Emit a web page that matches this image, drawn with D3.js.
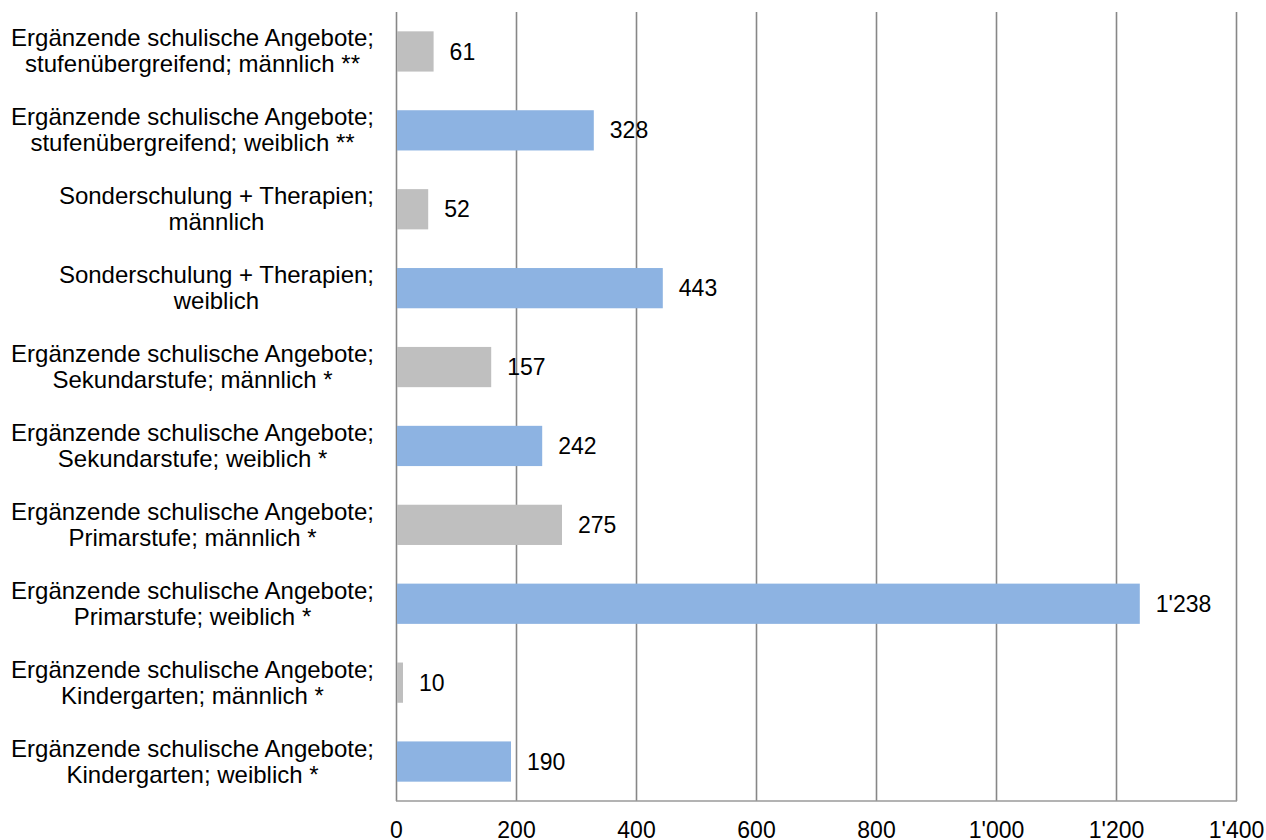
<!DOCTYPE html>
<html><head><meta charset="utf-8">
<script src="https://cdn.jsdelivr.net/npm/d3@7/dist/d3.min.js"></script>
<style>body{margin:0;background:#fff}svg{display:block}text{font-family:"Liberation Sans",Arial,sans-serif;fill:#000}</style>
</head><body><svg id="c" width="1266" height="840"></svg>
<script>
const categories = [
  ["Ergänzende schulische Angebote;", "stufenübergreifend; männlich **"],
  ["Ergänzende schulische Angebote;", "stufenübergreifend; weiblich **"],
  ["Sonderschulung + Therapien;", "männlich"],
  ["Sonderschulung + Therapien;", "weiblich"],
  ["Ergänzende schulische Angebote;", "Sekundarstufe; männlich *"],
  ["Ergänzende schulische Angebote;", "Sekundarstufe; weiblich *"],
  ["Ergänzende schulische Angebote;", "Primarstufe; männlich *"],
  ["Ergänzende schulische Angebote;", "Primarstufe; weiblich *"],
  ["Ergänzende schulische Angebote;", "Kindergarten; männlich *"],
  ["Ergänzende schulische Angebote;", "Kindergarten; weiblich *"]
];
const values = [61, 328, 52, 443, 157, 242, 275, 1238, 10, 190];
const genders = ["m", "w", "m", "w", "m", "w", "m", "w", "m", "w"];
const ticks = [0, 200, 400, 600, 800, 1000, 1200, 1400];

(function () {
const colors = {m: "#BFBFBF", w: "#8DB3E2"};
const fmt = d3.formatLocale({decimal: ".", thousands: "'", grouping: [3], currency: ["", ""]}).format(",d");

const svg = d3.select("#c");
const mLeft = 396, mRight = 1236, mTop = 12, mBottom = 801;
const x = d3.scaleLinear().domain([0, 1400]).range([mLeft, mRight]);
const y = d3.scaleBand().domain(d3.range(values.length)).range([mTop, mBottom]).paddingInner(0.49).paddingOuter(0.245);

// gridlines
svg.append("g").selectAll("line").data(ticks).join("line")
  .attr("x1", d => x(d) + 0.5).attr("x2", d => x(d) + 0.5)
  .attr("y1", mTop).attr("y2", mBottom)
  .attr("stroke", "#878787").attr("stroke-width", 1.6);

// bars
svg.append("g").selectAll("rect").data(values).join("rect")
  .attr("x", x(0) + 1).attr("y", (d, i) => y(i))
  .attr("width", d => x(d) - x(0)).attr("height", y.bandwidth())
  .attr("fill", (d, i) => colors[genders[i]]);

// bottom axis line
svg.append("line").attr("x1", mLeft).attr("x2", mRight + 1).attr("y1", mBottom).attr("y2", mBottom)
  .attr("stroke", "#9a9a9a").attr("stroke-width", 1.5);

// x axis labels
const xAxis = d3.axisBottom(x).tickValues(ticks).tickFormat(fmt).tickSize(0).tickPadding(0);
const gx = svg.append("g").attr("transform", `translate(0,${mBottom})`).call(xAxis);
gx.select(".domain").remove();
gx.selectAll("text").attr("font-size", 23).attr("dy", null).attr("y", 36.5)
  .style("font-family", '"Liberation Sans",Arial,sans-serif').attr("fill", "#000");

// value labels
svg.append("g").selectAll("text").data(values).join("text")
  .attr("x", d => x(d) + 17).attr("y", (d, i) => y(i) + y.bandwidth() / 2)
  .attr("dy", "0.35em").attr("font-size", 23).text(d => fmt(d));

// category labels: each block right-aligned at 374, lines centered within block
const labelRight = 374;
const cl = svg.append("g").selectAll("text").data(categories).join("text")
  .attr("text-anchor", "middle").attr("font-size", 24)
  .attr("y", (d, i) => y(i) + y.bandwidth() / 2);
cl.selectAll("tspan").data(d => d).join("tspan")
  .attr("dy", (d, j) => j === 0 ? -5 : 26).text(d => d);
cl.each(function () {
  const spans = d3.select(this).selectAll("tspan").nodes();
  const w = d3.max(spans, s => s.getComputedTextLength());
  const cx = labelRight - w / 2;
  d3.select(this).selectAll("tspan").attr("x", cx);
});
})();
</script></body></html>
